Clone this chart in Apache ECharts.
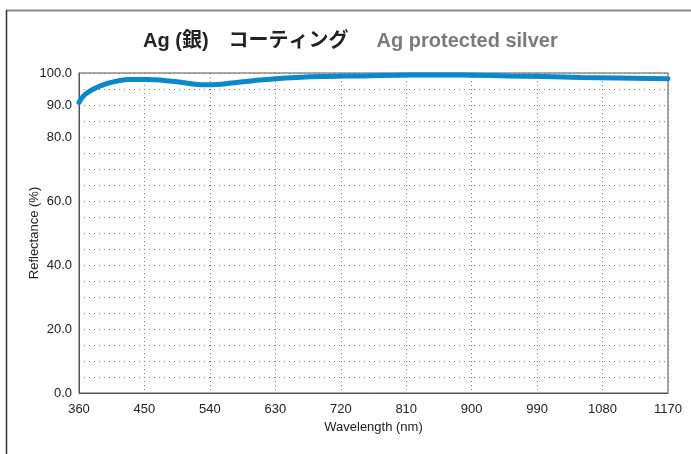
<!DOCTYPE html>
<html>
<head>
<meta charset="utf-8">
<style>
  html, body { margin: 0; padding: 0; background: #fff; }
  #chart { width: 691px; height: 454px; }
</style>
<script src="https://cdn.jsdelivr.net/npm/echarts@6/dist/echarts.min.js"></script>
</head>
<body>
<div id="chart"></div>
<script>
// Reflectance of protected silver coating vs wavelength
const wavelengths = [360, 365, 370, 380, 390, 400, 415, 430, 445, 460, 480, 500, 520, 535, 550, 570, 600, 630, 660, 700, 750, 800, 850, 900, 950, 1000, 1050, 1100, 1170];
const reflectance = [90.8, 92.5, 93.6, 95.0, 96.0, 96.8, 97.6, 97.95, 98.0, 97.9, 97.6, 97.1, 96.5, 96.3, 96.4, 96.9, 97.6, 98.2, 98.6, 98.9, 99.1, 99.3, 99.4, 99.3, 99.1, 98.9, 98.6, 98.4, 98.2];
const yTickLabels = [0, 20, 40, 60, 80, 90, 100];

const titleMain = 'Ag (銀)\u3000コーティング';
const titleSub = 'Ag protected silver';

const chart = echarts.init(document.getElementById('chart'));
const baseFont = '"Liberation Sans", Arial, Helvetica, sans-serif';

chart.setOption({
  animation: false,
  backgroundColor: '#ffffff',
  graphic: [
    { type: 'line', shape: { x1: 6, y1: 10.5, x2: 691, y2: 10.5 }, style: { stroke: '#8c8c8c', lineWidth: 2 } },
    { type: 'line', shape: { x1: 6.5, y1: 10, x2: 6.5, y2: 454 }, style: { stroke: '#333333', lineWidth: 1.5 } }
  ],
  title: {
    text: '{a|' + titleMain + '}{b|' + titleSub + '}',
    left: 138,
    top: 26,
    textStyle: {
      rich: {
        a: { fontFamily: '"Liberation Sans", "Noto Sans CJK JP", Arial, sans-serif', fontWeight: 'bold', fontSize: 20, color: '#222222' },
        b: { fontFamily: baseFont, fontWeight: 'bold', fontSize: 20, color: '#7a7a7a', padding: [0, 0, 0, 28] }
      }
    }
  },
  grid: {
    left: 79, right: 23, top: 73, bottom: 61,
    show: true, borderColor: '#555555', borderWidth: 1
  },
  xAxis: {
    type: 'value',
    min: 360, max: 1170, interval: 90,
    name: 'Wavelength (nm)',
    nameLocation: 'middle',
    nameGap: 28,
    nameMoveOverlap: false,
    nameTextStyle: { fontFamily: baseFont, fontSize: 13, color: '#222' },
    axisLine: { show: true, lineStyle: { color: '#555', width: 1 } },
    axisTick: { show: false },
    axisLabel: { fontFamily: baseFont, fontSize: 13, color: '#222', margin: 10, formatter: v => String(v) },
    splitLine: { show: true, lineStyle: { color: '#777', type: [1, 3], width: 1 } }
  },
  yAxis: {
    type: 'value',
    min: 0, max: 100, interval: 5,
    name: 'Reflectance (%)',
    nameLocation: 'middle',
    nameGap: 38,
    nameMoveOverlap: false,
    nameTextStyle: { fontFamily: baseFont, fontSize: 13, color: '#222' },
    axisLine: { show: true, lineStyle: { color: '#555', width: 1 } },
    axisTick: { show: false },
    axisLabel: {
      fontFamily: baseFont, fontSize: 13, color: '#222', margin: 7,
      formatter: v => yTickLabels.includes(v) ? v.toFixed(1) : ''
    },
    splitLine: { show: true, lineStyle: { color: '#777', type: [1, 4], width: 1 } }
  },
  series: [{
    type: 'line',
    data: wavelengths.map((w, i) => [w, reflectance[i]]),
    smooth: 0.5,
    showSymbol: false,
    clip: false,
    lineStyle: { color: '#0a88cc', width: 5, cap: 'round' }
  }]
});
</script>
</body>
</html>
